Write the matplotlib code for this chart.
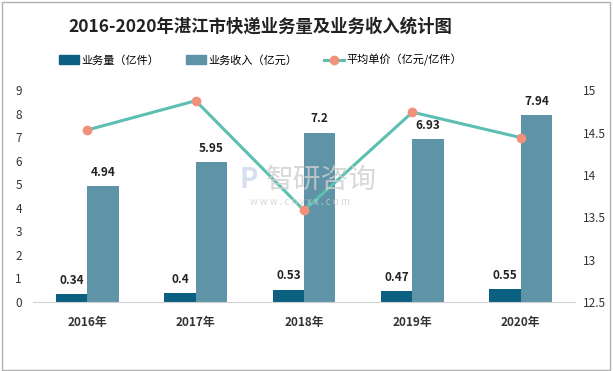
import numpy as np
import matplotlib.pyplot as plt
from matplotlib.lines import Line2D
from matplotlib.patches import Patch, Rectangle

plt.rcParams['font.family'] = ['Noto Sans CJK SC', 'DejaVu Sans']

years = ['2016年', '2017年', '2018年', '2019年', '2020年']
volume = [0.34, 0.4, 0.53, 0.47, 0.55]          # 业务量（亿件）
revenue = [4.94, 5.95, 7.2, 6.93, 7.94]         # 业务收入（亿元）
unit_price = [14.53, 14.875, 13.58, 14.74, 14.44]  # 平均单价

c_vol = '#0b5f80'
c_rev = '#5f93a8'
c_line = '#5cbfb1'
c_mark = '#ef917b'

fig = plt.figure(figsize=(6.13, 3.71), dpi=100)
fig.patches.append(Rectangle((0.003, 0.004), 0.992, 0.99, transform=fig.transFigure,
                             fill=False, edgecolor='#b0b0b0', lw=1))

ax = fig.add_axes([0.054, 0.186, 0.884, 0.571])
x = np.arange(len(years))
w = 0.29
ax.bar(x - w / 2, volume, w, color=c_vol, zorder=2)
ax.bar(x + w / 2, revenue, w, color=c_rev, zorder=2)
for xi, v in zip(x, volume):
    ax.text(xi - w / 2, v + 0.3, str(v), ha='center', va='bottom', fontsize=8.5,
            fontweight='bold', color='#222222')
for xi, v in zip(x, revenue):
    ax.text(xi + w / 2, v + 0.3, str(v), ha='center', va='bottom', fontsize=8.5,
            fontweight='bold', color='#222222')

ax.set_xlim(-0.5, len(years) - 0.5)
ax.set_ylim(0, 9)
ax.set_yticks(range(0, 10))
ax.set_xticks(x)
ax.set_xticklabels(years, fontsize=9, fontweight='bold', color='#222222')
for s in ['top', 'right', 'left']:
    ax.spines[s].set_visible(False)
ax.spines['bottom'].set_color('#d0d0d0')
ax.tick_params(axis='both', length=0, labelsize=8.5, colors='#333333')
ax.tick_params(axis='x', pad=10)
ax.tick_params(axis='y', pad=8)

ax2 = ax.twinx()
ax2.plot(x, unit_price, color=c_line, lw=2.2, marker='o', markersize=6,
         markerfacecolor=c_mark, markeredgecolor=c_mark, zorder=3)
ax2.set_ylim(12.5, 15)
ax2.set_yticks([12.5, 13, 13.5, 14, 14.5, 15])
ax2.set_yticklabels(['12.5', '13', '13.5', '14', '14.5', '15'])
for s in ['top', 'right', 'left', 'bottom']:
    ax2.spines[s].set_visible(False)
ax2.tick_params(axis='y', length=0, labelsize=8.5, colors='#333333', pad=6)

# watermark
fig.text(0.525, 0.515, '智研咨询', fontsize=20, color='#cfcfcf', alpha=0.8,
         ha='center', va='center')
fig.text(0.49, 0.455, 'w w w . c h y x x . c o m', fontsize=7, color='#cfcfcf',
         alpha=0.8, ha='center', va='center')
fig.text(0.405, 0.515, 'P', fontsize=20, color='#d6e0ee', fontweight='bold',
         ha='center', va='center')

fig.text(0.425, 0.927, '2016-2020年湛江市快递业务量及业务收入统计图', ha='center', va='center',
         fontsize=12.5, fontweight='bold', color='#222222')

handles = [Patch(color=c_vol), Patch(color=c_rev),
           Line2D([0], [0], color=c_line, lw=2.2, marker='o', markersize=6,
                  markerfacecolor=c_mark, markeredgecolor=c_mark)]
labels = ['业务量（亿件）', '业务收入（亿元）', '平均单价（亿元/亿件）']
fig.legend(handles, labels, loc='center', bbox_to_anchor=(0.425, 0.838), ncol=3,
           frameon=False, fontsize=8, handlelength=1.8, handleheight=0.8,
           columnspacing=2.4, handletextpad=0.2)

fig.savefig('out.png', dpi=100)
